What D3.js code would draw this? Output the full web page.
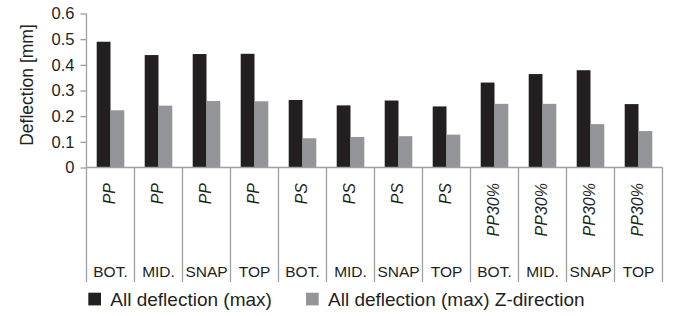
<!DOCTYPE html>
<html>
<head>
<meta charset="utf-8">
<script src="https://cdn.jsdelivr.net/npm/d3@7"></script>
<style>
  html, body { margin: 0; padding: 0; background: #fff; }
  svg { display: block; }
  text { font-family: "Liberation Sans", Arial, Helvetica, sans-serif; fill: #231f20; }
</style>
</head>
<body>
<svg id="chart" width="675" height="316"></svg>
<script>
// ---- data ----
const materials = ["PP", "PP", "PP", "PP", "PS", "PS", "PS", "PS", "PP30%", "PP30%", "PP30%", "PP30%"];
const positions = ["BOT.", "MID.", "SNAP", "TOP", "BOT.", "MID.", "SNAP", "TOP", "BOT.", "MID.", "SNAP", "TOP"];
const seriesNames = ["All deflection (max)", "All deflection (max) Z-direction"];
const deflectionMax = [0.490, 0.438, 0.442, 0.443, 0.263, 0.242, 0.261, 0.238, 0.331, 0.364, 0.379, 0.247];
const deflectionZ   = [0.223, 0.241, 0.259, 0.258, 0.114, 0.119, 0.122, 0.128, 0.248, 0.248, 0.169, 0.142];
const yTicks = [0, 0.1, 0.2, 0.3, 0.4, 0.5, 0.6];

const colors = ["#231f20", "#939598"];
const axisColor = "#9d9fa2";

const svg = d3.select("#chart");
const x0 = 86.5, x1 = 662.5, yTop = 13.5, yBot = 167.5;

const idx = d3.range(materials.length);
const x = d3.scaleBand().domain(idx).range([x0, x1]).paddingInner(0).paddingOuter(0);
const xs = d3.scaleBand().domain([0, 1]).range([10.2, x.bandwidth() - 10.2]).padding(0);
const y = d3.scaleLinear().domain([0, 0.6]).range([yBot, yTop]);

const series = [deflectionMax, deflectionZ];

// bars
series.forEach((vals, s) => {
  svg.append("g").selectAll("rect").data(vals).join("rect")
    .attr("x", (d, i) => x(i) + xs(s))
    .attr("width", xs.bandwidth())
    .attr("y", d => y(d))
    .attr("height", d => y(0) - y(d))
    .attr("fill", colors[s]);
});

// y axis
const yAxis = d3.axisLeft(y).tickValues(yTicks).tickFormat(d => d === 0 ? "0" : d3.format(".1f")(d)).tickSize(6).tickPadding(6);
const gy = svg.append("g").attr("transform", `translate(${x0},0)`).call(yAxis);
gy.select(".domain").remove();
gy.selectAll(".tick line").attr("stroke", axisColor).attr("stroke-width", 1.3);
gy.selectAll(".tick text").style("font-size", "16.5px").attr("fill", "#231f20");
svg.append("line").attr("x1", x0).attr("x2", x0).attr("y1", yTop).attr("y2", yBot)
  .attr("stroke", axisColor).attr("stroke-width", 1.3);

// x axis line
svg.append("line").attr("x1", x0).attr("x2", x1).attr("y1", yBot).attr("y2", yBot)
  .attr("stroke", axisColor).attr("stroke-width", 1.5);

// category separators
const bounds = idx.map(i => x(i)).concat([x1]);
svg.append("g").selectAll("line").data(bounds).join("line")
  .attr("x1", d => d).attr("x2", d => d)
  .attr("y1", yBot).attr("y2", 282)
  .attr("stroke", axisColor).attr("stroke-width", 1.3);

// material labels (rotated, italic)
svg.append("g").selectAll("text").data(materials).join("text")
  .attr("transform", (d, i) => `translate(${x(i) + x.bandwidth() / 2},183) rotate(-90)`)
  .attr("text-anchor", "end")
  .attr("dy", "0.28em")
  .style("font-size", "16px")
  .style("font-style", "italic")
  .text(d => d);

// position labels
svg.append("g").selectAll("text").data(positions).join("text")
  .attr("x", (d, i) => x(i) + x.bandwidth() / 2)
  .attr("y", 276.5)
  .attr("text-anchor", "middle")
  .style("font-size", "15.5px")
  .text(d => d);

// y axis title
svg.append("text")
  .attr("transform", "translate(33.3,85) rotate(-90)")
  .attr("text-anchor", "middle")
  .style("font-size", "17.5px")
  .text("Deflection [mm]");

// legend
const legX = [88.3, 306];
seriesNames.forEach((name, s) => {
  svg.append("rect").attr("x", legX[s]).attr("y", 292.7).attr("width", 12.7).attr("height", 12.7).attr("fill", colors[s]);
  svg.append("text").attr("x", legX[s] + 22).attr("y", 306)
    .style("font-size", "19px").text(name);
});
</script>
</body>
</html>
